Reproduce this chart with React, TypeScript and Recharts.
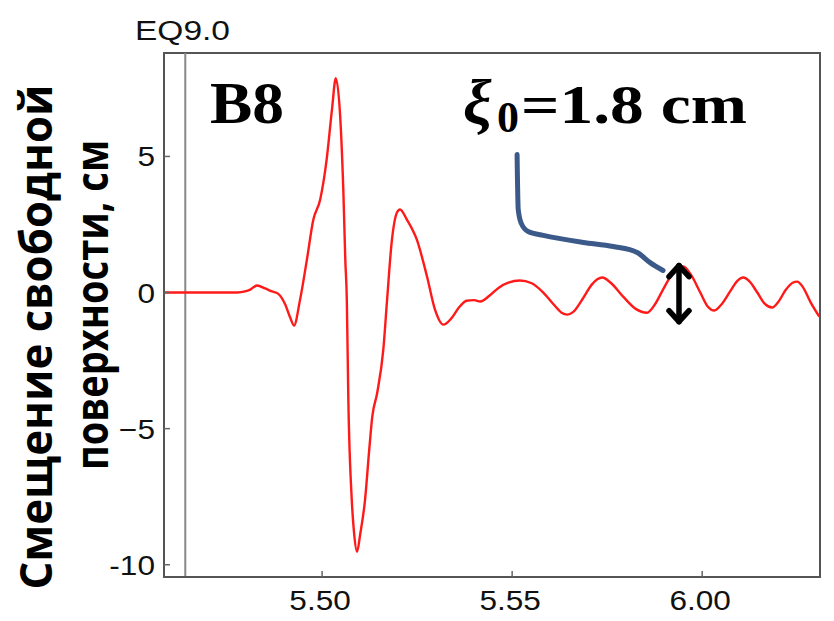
import * as React from "react";
import {
  LineChart,
  Line,
  XAxis,
  YAxis,
  ReferenceLine,
  ReferenceArea,
} from "recharts";

// time in minutes after midnight (350 = 5:50), surface displacement in cm
const timeMin = [
  345.84, 347.76, 347.97, 348.11, 348.29, 348.5, 348.68, 348.84, 349.03, 349.16,
  349.26, 349.42, 349.6, 349.77, 349.95, 350.12, 350.26, 350.36, 350.49, 350.56,
  350.61, 350.65, 350.69, 350.78, 350.84, 350.92, 351.0, 351.13, 351.24, 351.32,
  351.45, 351.61, 351.71, 351.83, 351.97, 352.05, 352.23, 352.49, 352.76, 352.97,
  353.19, 353.4, 353.6, 353.8, 354.0, 354.16, 354.4, 354.65, 354.9, 355.2,
  355.5, 355.82, 356.1, 356.3, 356.45, 356.6, 356.87, 357.1, 357.37, 357.6,
  357.92, 358.25, 358.55, 358.75, 358.97, 359.2, 359.5, 359.72, 359.95, 360.15,
  360.32, 360.5, 360.74, 360.92, 361.08, 361.25, 361.45, 361.65, 361.84, 362.0,
  362.2, 362.38, 362.5, 362.65, 362.85, 363.08,
];
const displacement = [
  0, 0, 0.04, 0.11, 0.26, 0.15, 0.04, -0.04, -0.44, -0.92,
  -1.21, -0.26, 1.21, 2.68, 3.42, 4.89, 6.73, 7.87, 6.1, 3.68,
  1.21, -0.26, -3.93, -7.61, -8.82, -9.52, -8.9, -7.61, -5.77, -4.56,
  -3.68, -2.1, -0.26, 1.84, 2.94, 3.05, 2.68, 1.95, 0.59, -0.63,
  -1.18, -0.95, -0.55, -0.3, -0.28, -0.33, -0.12, 0.18, 0.36, 0.44,
  0.35, 0.0, -0.45, -0.74, -0.81, -0.72, -0.2, 0.3, 0.55, 0.35,
  -0.15, -0.6, -0.74, -0.45, 0.11, 0.65, 0.96, 0.62, 0.0, -0.52,
  -0.66, -0.45, 0.05, 0.42, 0.55, 0.4, 0.0, -0.42, -0.55, -0.35,
  0.1, 0.36, 0.4, 0.2, -0.35, -0.88,
];

// hand-drawn pointer from the label to the measured crest
const pointerT = [355.13, 355.16, 355.24, 355.42, 355.82, 356.87, 357.66, 358.29, 358.63, 358.97];
const pointerV = [5.07, 3.05, 2.54, 2.24, 2.1, 1.84, 1.69, 1.47, 1.1, 0.81];

const xTicks = [350, 355, 360];
const yTicks = [-10, -5, 0, 5];
const yTickLabels: Record<number, string> = { "-10": "-10", "-5": "\u22125", "0": "0", "5": "5" };
const xDomain = [345.84, 363.1];
const yDomain = [-10.45, 8.8];
const eventTime = 346.4;
const crestTime = 359.39;
const crestRange = [-1.18, 1.1];

const series = timeMin.map((t, i) => ({ t, v: displacement[i] }));
const pointer = pointerT.map((t, i) => ({ t, v: pointerV[i] }));

const fmtTime = (v: number) => {
  const h = Math.floor(v / 60);
  const m = Math.round(v - h * 60);
  return `${h}.${String(m).padStart(2, "0")}`;
};

const SANS = "'Liberation Sans', Arial, sans-serif";
const SERIF = "'Liberation Serif', 'Times New Roman', serif";

const XTick = (props: any) => {
  const { x, y, payload } = props;
  return (
    <g>
      <line x1={x} x2={x} y1={y} y2={y - 6} stroke="#666" strokeWidth={1.5} />
      <text
        transform={`translate(${x - 2},${y + 33}) scale(1.17,1)`}
        textAnchor="middle"
        fontFamily={SANS}
        fontSize={27}
        fill="#111"
      >
        {fmtTime(payload.value)}
      </text>
    </g>
  );
};

const YTick = (props: any) => {
  const { x, y, payload } = props;
  return (
    <g>
      <line x1={x} x2={x + 6} y1={y} y2={y} stroke="#666" strokeWidth={1.5} />
      <text
        transform={`translate(${x - 9},${y + 10}) scale(1.17,1)`}
        textAnchor="end"
        fontFamily={SANS}
        fontSize={27}
        fill="#111"
      >
        {yTickLabels[payload.value] ?? String(payload.value)}
      </text>
    </g>
  );
};

const ArrowShape = (props: any) => {
  const { x1, y1, x2, y2 } = props;
  const x = (x1 + x2) / 2;
  const top = Math.min(y1, y2);
  const bot = Math.max(y1, y2);
  return (
    <g stroke="#000" strokeWidth={5.5} fill="none" strokeLinecap="round" strokeLinejoin="round">
      <line x1={x} x2={x} y1={top + 3} y2={bot - 3} />
      <path d={`M${x - 10},${top + 14} L${x},${top + 3} L${x + 10},${top + 14}`} />
      <path d={`M${x - 10},${bot - 14} L${x},${bot - 3} L${x + 10},${bot - 14}`} />
    </g>
  );
};

export default function App() {
  return (
    <div
      style={{
        position: "absolute",
        left: 0,
        top: 0,
        width: 834,
        height: 621,
        background: "#fff",
      }}
    >
      <LineChart
        width={834}
        height={621}
        data={series}
        margin={{ top: 53, right: 14, bottom: 0, left: 0 }}
      >
        <XAxis
          dataKey="t"
          type="number"
          domain={xDomain}
          ticks={xTicks}
          allowDataOverflow
          height={44}
          tickSize={0}
          tickMargin={0}
          tickLine={false}
          axisLine={{ stroke: "#555", strokeWidth: 2 }}
          tick={<XTick />}
        />
        <YAxis
          type="number"
          domain={yDomain}
          ticks={yTicks}
          allowDataOverflow
          width={164}
          tickSize={0}
          tickMargin={0}
          tickLine={false}
          axisLine={{ stroke: "#555", strokeWidth: 2 }}
          tick={<YTick />}
        />
        <ReferenceArea
          x1={xDomain[0]}
          x2={xDomain[1]}
          y1={yDomain[0]}
          y2={yDomain[1]}
          fill="none"
          stroke="#555"
          strokeWidth={2}
        />
        <ReferenceLine x={eventTime} stroke="#888" strokeWidth={2} />
        <Line
          dataKey="v"
          type="monotone"
          stroke="#ff1a1a"
          strokeWidth={2.4}
          dot={false}
          isAnimationActive={false}
        />
        <Line
          data={pointer}
          dataKey="v"
          type="monotone"
          stroke="#3b5a8a"
          strokeWidth={5}
          strokeLinecap="round"
          dot={false}
          isAnimationActive={false}
        />
        <ReferenceLine
          segment={[
            { x: crestTime, y: crestRange[1] },
            { x: crestTime, y: crestRange[0] },
          ]}
          shape={<ArrowShape />}
        />
      </LineChart>

      <svg
        width={834}
        height={621}
        style={{ position: "absolute", left: 0, top: 0, pointerEvents: "none" }}
      >
        <text x={135} y={40} fontFamily={SANS} fontSize={27} fill="#111" textLength={95} lengthAdjust="spacingAndGlyphs">
          EQ9.0
        </text>
        <text
          transform="translate(52,337) scale(1.2,1) rotate(-90)"
          textAnchor="middle"
          fontFamily="'Open Sans', sans-serif"
          fontWeight={700}
          fontSize={38}
          fill="#000"
          textLength={505}
          lengthAdjust="spacingAndGlyphs"
        >
          Смещение свободной
        </text>
        <text
          transform="translate(108,305) scale(1.2,1) rotate(-90)"
          textAnchor="middle"
          fontFamily="'Open Sans', sans-serif"
          fontWeight={700}
          fontSize={38}
          fill="#000"
          textLength={330}
          lengthAdjust="spacingAndGlyphs"
        >
          поверхности, см
        </text>
        <text x={210} y={123} fontFamily={SERIF} fontWeight={700} fontSize={60} fill="#000" textLength={74} lengthAdjust="spacingAndGlyphs">
          B8
        </text>
        <text x={463} y={124} fontFamily={SERIF} fontWeight={700} fontStyle="italic" fontSize={64} fill="#000">
          ξ
        </text>
        <text x={497} y={132} fontFamily={SERIF} fontWeight={700} fontSize={44} fill="#000">
          0
        </text>
        <text x={521} y={123} fontFamily={SERIF} fontWeight={700} fontSize={54} fill="#000" textLength={226} lengthAdjust="spacingAndGlyphs">
          =1.8 cm
        </text>
      </svg>
    </div>
  );
}
